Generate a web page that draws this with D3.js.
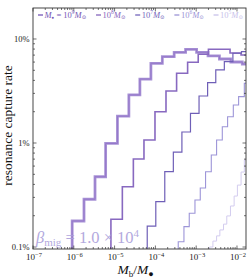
<!DOCTYPE html>
<html>
<head>
<meta charset="utf-8">
<script src="https://cdn.jsdelivr.net/npm/d3@7"></script>
<style>
body { margin: 0; background: #fff; }
svg text { font-family: "Liberation Serif", "DejaVu Serif", serif; }
</style>
</head>
<body>
<div id="graphic"></div>
<script>
// bin edges are log10(Mb/M•), rates are fractions
const massExps = ["9", "8", "7", "6", "5"];

const edgesA = [-6.04, -5.75, -5.48, -5.22, -4.93, -4.65, -4.38, -4.11, -3.83, -3.54, -3.26, -2.99, -2.71, -2.43, -2.15, -1.87, -1.59];
const ratesA = [0.00178, 0.00288, 0.00474, 0.0099, 0.0181, 0.029, 0.0412, 0.0584, 0.0676, 0.0745, 0.0796, 0.0745, 0.0687, 0.0642, 0.0601, 0.0575];

const edgesB = [-5.09, -4.81, -4.54, -4.28, -4.01, -3.74, -3.48, -3.21, -2.95, -2.70, -2.44, -2.17, -1.90, -1.63];
const ratesB = [0.00185, 0.0038, 0.00702, 0.0107, 0.020, 0.0316, 0.0468, 0.0597, 0.0713, 0.0796, 0.0796, 0.0733, 0.0702];

const edgesC = [-4.20, -3.99, -3.77, -3.56, -3.35, -3.14, -2.93, -2.72, -2.52, -2.31, -2.10, -1.89, -1.68];
const ratesC = [0.00159, 0.00273, 0.0053, 0.00819, 0.01276, 0.0193, 0.0283, 0.038, 0.0504, 0.0605, 0.0729, 0.0755];

const edgesD = [-3.44, -3.30, -3.17, -3.03, -2.90, -2.77, -2.63, -2.50, -2.36, -2.23, -2.09, -1.96, -1.82, -1.69];
const ratesD = [0.001125, 0.00157, 0.00211, 0.00283, 0.00369, 0.0053, 0.00767, 0.0107, 0.01435, 0.0179, 0.0232, 0.0279, 0.0375];

const edgesE = [-2.67, -2.59, -2.50, -2.42, -2.33, -2.25, -2.16, -2.07, -1.99, -1.90, -1.82, -1.73];
const ratesE = [0.001, 0.00114, 0.00128, 0.00146, 0.00166, 0.00199, 0.00248, 0.00309, 0.00394, 0.00526, 0.00687];

const xTickExps = [-7, -6, -5, -4, -3, -2];
const yTickValues = [0.001, 0.01, 0.1];
const yTickLabels = ["0.1%", "1%", "10%"];

const series = [
	{ edges: edgesA, rates: ratesA, colour: "#a892d6", width: 2.8 },
	{ edges: edgesA, rates: ratesA, colour: "#9578c9", width: 1.0 },
	{ edges: edgesB, rates: ratesB, colour: "#8869c0", width: 1.6 },
	{ edges: edgesC, rates: ratesC, colour: "#6f5fb7", width: 1.2 },
	{ edges: edgesD, rates: ratesD, colour: "#9d95d8", width: 1.1 },
	{ edges: edgesE, rates: ratesE, colour: "#d3ccef", width: 1.0 }
];
const legendColours = ["#7556b6", "#8565bd", "#7365bb", "#9b93d6", "#c8c1ea"];

const margin = { top: 8, right: 3, bottom: 31, left: 33 };
const chartWidth = 249 - margin.left - margin.right;
const height = 280 - margin.top - margin.bottom;

const x = d3.scaleLog().domain([1e-7, Math.pow(10, -1.779)]).range([0, chartWidth]);
const y = d3.scaleLog().domain([Math.pow(10, -3.019), Math.pow(10, -0.702)]).range([height, 0]);

const svg = d3.select('#graphic')
	.append('svg')
	.attr('width', 249)
	.attr('height', 280)
	.append('g')
	.attr('transform', `translate(${margin.left},${margin.top})`);

svg.append('clipPath').attr('id', 'clip')
	.append('rect').attr('width', chartWidth).attr('height', height);

// step histograms, rising from below the axis
function histPath(edges, rates) {
	let p = `M${x(Math.pow(10, edges[0]))},${height + 2}`;
	rates.forEach((r, i) => {
		p += `V${y(r)}H${x(Math.pow(10, edges[i + 1]))}`;
	});
	return p;
}

svg.append('g').attr('clip-path', 'url(#clip)')
	.selectAll('path')
	.data(series)
	.join('path')
	.attr('d', d => histPath(d.edges, d.rates))
	.attr('fill', 'none')
	.attr('stroke', d => d.colour)
	.attr('stroke-width', d => d.width)
	.attr('stroke-linejoin', 'miter');

// minor + major ticks, all pointing inwards
const xMinor = [];
for (let e = -7; e <= -2; e++) for (let k = 2; k <= 9; k++) {
	const v = k * Math.pow(10, e);
	if (v < x.domain()[1]) xMinor.push(v);
}
const yMinor = [];
for (let e = -4; e <= -1; e++) for (let k = 2; k <= 9; k++) {
	const v = k * Math.pow(10, e);
	if (v > y.domain()[0] && v < y.domain()[1]) yMinor.push(v);
}
const xMajor = xTickExps.map(e => Math.pow(10, e));

const ticks = svg.append('g').attr('stroke', '#333').attr('stroke-width', 0.7);
[[xMajor, 3.5], [xMinor, 2]].forEach(([vals, len]) => {
	vals.forEach(v => {
		ticks.append('line').attr('x1', x(v)).attr('x2', x(v)).attr('y1', height).attr('y2', height - len);
		ticks.append('line').attr('x1', x(v)).attr('x2', x(v)).attr('y1', 0).attr('y2', len);
	});
});
[[yTickValues, 3.5], [yMinor, 2]].forEach(([vals, len]) => {
	vals.forEach(v => {
		ticks.append('line').attr('y1', y(v)).attr('y2', y(v)).attr('x1', 0).attr('x2', len);
		ticks.append('line').attr('y1', y(v)).attr('y2', y(v)).attr('x1', chartWidth).attr('x2', chartWidth - len);
	});
});

svg.append('rect')
	.attr('width', chartWidth).attr('height', height)
	.attr('fill', 'none').attr('stroke', '#333').attr('stroke-width', 0.9);

// x tick labels 10^n
xTickExps.forEach(e => {
	const t = svg.append('text')
		.attr('x', x(Math.pow(10, e)) + 1)
		.attr('y', height + 11)
		.attr('text-anchor', 'middle')
		.attr('font-size', 9)
		.attr('fill', '#222');
	t.append('tspan').text('10');
	t.append('tspan').attr('dy', -3.5).attr('font-size', 6.5).text('\u2212' + (-e));
});

// y tick labels
yTickValues.forEach((v, i) => {
	svg.append('text')
		.attr('x', -3.5)
		.attr('y', y(v))
		.attr('dy', '0.35em')
		.attr('text-anchor', 'end')
		.attr('font-size', 8.5)
		.attr('fill', '#222')
		.text(yTickLabels[i]);
});

// axis labels
svg.append('text')
	.attr('transform', `translate(${-21},${height / 2 - 3}) rotate(-90)`)
	.attr('text-anchor', 'middle')
	.attr('font-size', 13.5)
	.attr('fill', '#111')
	.text('resonance capture rate');

const xl = svg.append('text')
	.attr('x', chartWidth / 2 - 4)
	.attr('y', height + 25)
	.attr('text-anchor', 'middle')
	.attr('font-size', 13.5)
	.attr('fill', '#111');
xl.append('tspan').attr('font-style', 'italic').text('M');
xl.append('tspan').attr('dy', 2.5).attr('font-size', 9).text('b');
xl.append('tspan').attr('dy', -2.5).text('/');
xl.append('tspan').attr('font-style', 'italic').text('M');
xl.append('tspan').attr('dy', 2.5).attr('font-size', 9).text('\u25CF');

// beta label
const bl = svg.append('text')
	.attr('x', 3)
	.attr('y', height - 6)
	.attr('font-size', 16.5)
	.attr('fill', '#ab9fdb')
	.attr('opacity', 0.9);
bl.append('tspan').attr('font-style', 'italic').text('\u03B2');
bl.append('tspan').attr('dy', 3).attr('font-size', 11).text('mig');
bl.append('tspan').attr('dy', -3).text(' = 1.0 \u00D7 10');
bl.append('tspan').attr('dy', -6).attr('font-size', 11).text('4');

// legend along the top, spread to span the plot
const legend = svg.append('g').attr('transform', 'translate(5,7)');
const items = massExps.map((m, i) => {
	const g = legend.append('g');
	g.append('line')
		.attr('x1', 0).attr('x2', 5).attr('y1', 0).attr('y2', 0)
		.attr('stroke', legendColours[i]).attr('stroke-width', 1.3);
	const t = g.append('text')
		.attr('x', 6.5).attr('y', 2.6)
		.attr('font-size', 8.5)
		.attr('font-style', 'italic')
		.attr('fill', legendColours[i]);
	if (i === 0) {
		t.append('tspan').text('M');
		t.append('tspan').attr('dy', 1.5).attr('font-size', 4.5).attr('font-style', 'normal').text('\u25CF');
		t.append('tspan').attr('dy', -1.5).attr('font-style', 'normal').text(' = ');
	}
	t.append('tspan').attr('font-style', 'normal').text('10');
	t.append('tspan').attr('dy', -3.2).attr('font-size', 5.5).attr('font-style', 'normal').text(m);
	t.append('tspan').attr('dy', 3.2).text('M');
	t.append('tspan').attr('dy', 1.6).attr('font-size', 5.5).attr('font-style', 'normal').text('\u2299');
	return { g, w: 6.5 + t.node().getComputedTextLength() };
});
const total = d3.sum(items, d => d.w);
const gap = (chartWidth - 8 - total) / (items.length - 1);
let lx = 0;
items.forEach(d => {
	d.g.attr('transform', `translate(${lx},0)`);
	lx += d.w + gap;
});
</script>
</body>
</html>
